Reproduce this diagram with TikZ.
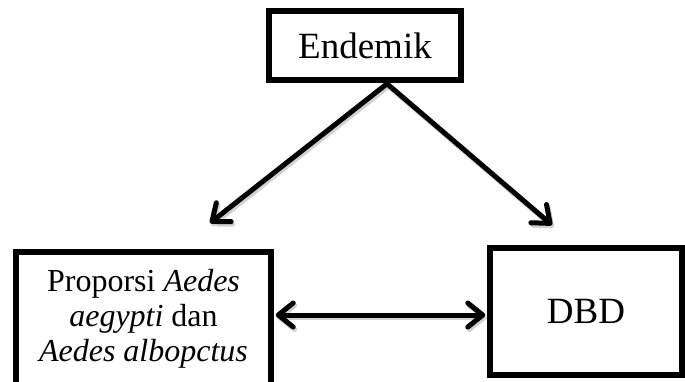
\documentclass[tikz,border=0pt]{standalone}
\usepackage{fontspec}
\setmainfont{Liberation Serif}
\usetikzlibrary{arrows.meta}
\begin{document}
\begin{tikzpicture}[x=1pt,y=-1pt,
  box/.style={draw=black,line width=5.5pt,fill=white,inner sep=0pt,align=center},
  arr/.style={line width=5pt,line cap=round,-{Straight Barb[length=15pt,width=24pt,line width=5pt,line cap=round,line join=round]},
    preaction={draw=black!18,line width=5pt,transform canvas={shift={(1.5pt,-2.5pt)}}}},
  darr/.style={line width=5pt,line cap=round,
    {Straight Barb[length=15pt,width=24pt,line width=5pt,line cap=round,line join=round]}-{Straight Barb[length=15pt,width=24pt,line width=5pt,line cap=round,line join=round]},
    preaction={draw=black!18,line width=5pt,transform canvas={shift={(1.5pt,-2.5pt)}}}}]
\useasboundingbox (0,0) rectangle (685,381);
\begin{scope}
\clip (0,0) rectangle (685,381);
\node[box,minimum width=192pt,minimum height=69pt,font=\fontsize{37}{40}\selectfont] (E) at (365,45.5) {Endemik};
\node[box,minimum width=255pt,minimum height=133pt,font=\fontsize{32}{35}\selectfont] (L) at (143.5,318.5)
  {Proporsi \textit{Aedes}\\\textit{aegypti} dan\\\textit{Aedes albopctus}};
\node[box,minimum width=192pt,minimum height=127pt,font=\fontsize{37}{40}\selectfont] (D) at (586,311.5) {DBD};
\coordinate (apex) at ([xshift=22pt,yshift=-1pt]E.south);
\coordinate (lt) at (210,223);
\coordinate (rt) at (552,225);
\coordinate (mid) at (0,315);
\draw[arr] (apex) -- (lt);
\draw[arr] (apex) -- (rt);
\draw[darr,shorten <=2pt,shorten >=2pt] (L.east |- mid) -- (D.west |- mid);
\end{scope}
\end{tikzpicture}
\end{document}
